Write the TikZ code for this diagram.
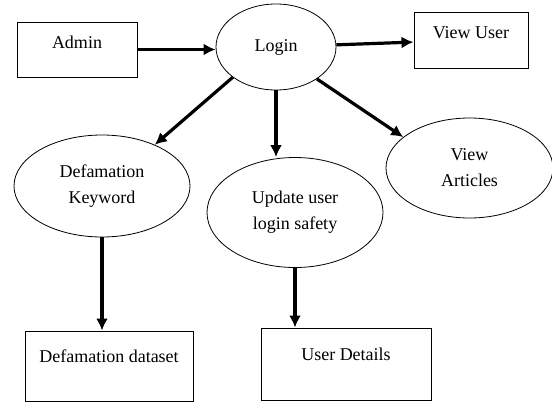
\documentclass[tikz,border=0pt]{standalone}
\usepackage{fontspec}
\setmainfont{Liberation Serif}
\usetikzlibrary{shapes.geometric, arrows.meta}

\begin{document}
\begin{tikzpicture}[x=1pt, y=-1pt,
        caja/.style={rectangle, draw, line width=1pt, inner sep=0pt, text depth=14pt, font=\fontsize{18}{26}\selectfont},
        elipse/.style={ellipse, draw, line width=0.8pt, inner sep=0pt, align=center, font=\fontsize{18}{26}\selectfont},
        flecha/.style={-{Latex[length=12pt, width=12pt]}, line width=3.2pt}
    ]
        \useasboundingbox (0,0) rectangle (552,402);

        % Admin y login
        \node[caja, minimum width=120pt, minimum height=55pt] (admin) at (77, 49.5) {Admin};
        \node[elipse, minimum width=120pt, minimum height=86pt] (login) at (276, 47) {Login};

        % Ver usuarios
        \node[caja, minimum width=114pt, minimum height=56pt] (viewuser) at (471, 40) {View User};

        % Elipses de la fila central
        \node[elipse, minimum width=176pt, minimum height=102pt] (keyword) at (102, 186) {Defamation\\Keyword};
        \node[elipse, minimum width=176pt, minimum height=110pt] (update) at (295, 212.5) {Update user\\login safety};
        \node[elipse, minimum width=167pt, minimum height=100pt] (articles) at (469.5, 168) {View\\Articles};

        % Cajas de abajo
        \node[caja, minimum width=168pt, minimum height=70pt, text depth=20pt] (dataset) at (109, 366) {Defamation dataset};
        \node[caja, minimum width=170pt, minimum height=72pt, text depth=20pt] (details) at (346, 364) {User Details};

        % ================= FLECHAS =================
        \draw[flecha] (admin.east) -- (admin.east -| login.west);
        \draw[flecha] (login) -- (viewuser);
        \draw[flecha] (login.215) -- (keyword.38);
        \draw[flecha] (login.south) -- (login.south |- update.north);
        \draw[flecha] (login.322) -- (articles.155);
        \draw[flecha] (keyword.south) -- (keyword.south |- dataset.north);
        \draw[flecha] (update.south) -- (update.south |- details.north);

    \end{tikzpicture}
\end{document}
